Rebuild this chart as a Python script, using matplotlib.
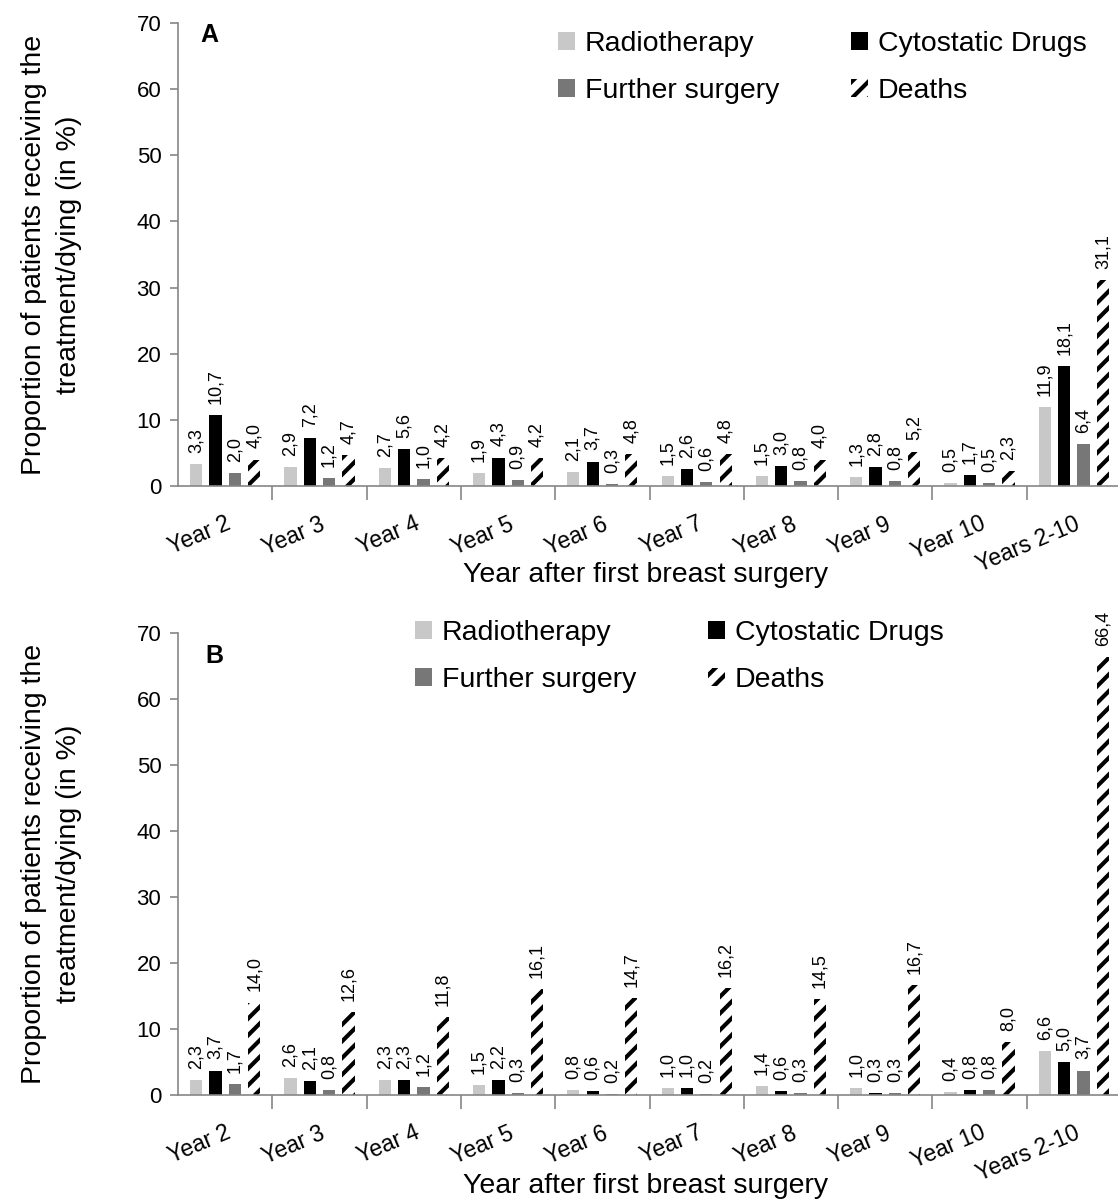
import numpy as np
import matplotlib.pyplot as plt
from matplotlib.ticker import FixedLocator, NullFormatter

plt.rcParams['font.family'] = ['Liberation Sans', 'DejaVu Sans']
plt.rcParams['hatch.linewidth'] = 3.0

# Categories and series
years = ["Year 2", "Year 3", "Year 4", "Year 5", "Year 6",
         "Year 7", "Year 8", "Year 9", "Year 10", "Years 2-10"]
series_names = ["Radiotherapy", "Cytostatic Drugs", "Further surgery", "Deaths"]

# Panel A
radio_a = [3.3, 2.9, 2.7, 1.9, 2.1, 1.5, 1.5, 1.3, 0.5, 11.9]
cyto_a = [10.7, 7.2, 5.6, 4.3, 3.7, 2.6, 3.0, 2.8, 1.7, 18.1]
surg_a = [2.0, 1.2, 1.0, 0.9, 0.3, 0.6, 0.8, 0.8, 0.5, 6.4]
deaths_a = [4.0, 4.7, 4.2, 4.2, 4.8, 4.8, 4.0, 5.2, 2.3, 31.1]

# Panel B
radio_b = [2.3, 2.6, 2.3, 1.5, 0.8, 1.0, 1.4, 1.0, 0.4, 6.6]
cyto_b = [3.7, 2.1, 2.3, 2.2, 0.6, 1.0, 0.6, 0.3, 0.8, 5.0]
surg_b = [1.7, 0.8, 1.2, 0.3, 0.2, 0.2, 0.3, 0.3, 0.8, 3.7]
deaths_b = [14.0, 12.6, 11.8, 16.1, 14.7, 16.2, 14.5, 16.7, 8.0, 66.4]

W, H = 1118, 1203
fig = plt.figure(figsize=(W / 100, H / 100), dpi=100)

axis_gray = '#868686'


def draw_panel(ax, data, letter, letter_pos, legend_anchor, xlabel_y):
    x = np.arange(len(years))
    width = 0.13
    step = 0.205
    offsets = [-1.5 * step, -0.5 * step, 0.5 * step, 1.5 * step]
    styles = [
        dict(color='#c8c8c8'),
        dict(color='black'),
        dict(color='#777777'),
        dict(facecolor='white', edgecolor='black', hatch='//', linewidth=0),
    ]
    handles = []
    for vals, off, st, name in zip(data, offsets, styles, series_names):
        bars = ax.bar(x + off, vals, width, label=name, **st)
        handles.append(bars)
        for xi, v in zip(x + off, vals):
            ax.annotate(f"{v:.1f}".replace('.', ','), (xi, v),
                        xytext=(0, 8), textcoords='offset points',
                        rotation=90, ha='center', va='bottom', fontsize=13)

    ax.set_xlim(-0.5, len(years) - 0.5)
    ax.set_ylim(0, 70)
    ax.set_yticks(range(0, 71, 10))
    ax.tick_params(axis='y', labelsize=16, color=axis_gray, length=6,
                   width=1.2, pad=6)

    # separators between groups as major ticks, labels at group centers
    ax.xaxis.set_major_locator(FixedLocator(np.arange(0.5, len(years) - 0.5, 1)))
    ax.xaxis.set_major_formatter(NullFormatter())
    ax.xaxis.set_minor_locator(FixedLocator(x))
    ax.set_xticklabels(years, minor=True, rotation=23, ha='right',
                       rotation_mode='anchor', fontsize=16.5)
    ax.tick_params(axis='x', which='major', direction='out', length=10,
                   color=axis_gray, width=1.2)
    ax.tick_params(axis='x', which='minor', length=0, pad=19)

    for side in ['top', 'right']:
        ax.spines[side].set_visible(False)
    for side in ['left', 'bottom']:
        ax.spines[side].set_color(axis_gray)
        ax.spines[side].set_linewidth(1.2)

    ax.set_xlabel("Year after first breast surgery", fontsize=20.5)
    ax.xaxis.set_label_coords(0.496, xlabel_y)
    ax.set_ylabel("Proportion of patients receiving the\ntreatment/dying (in %)",
                  fontsize=20.5, linespacing=1.45)
    ax.yaxis.set_label_coords(-0.102, 0.5)

    ax.text(letter_pos[0], letter_pos[1], letter, transform=fig.transFigure,
            fontsize=18, fontweight='bold', ha='left', va='center')

    # order so that rows read Radiotherapy | Cytostatic, Further surgery | Deaths
    order = [0, 2, 1, 3]
    ax.legend(handles=[handles[i] for i in order],
              labels=[series_names[i] for i in order],
              loc='upper left', bbox_to_anchor=legend_anchor,
              bbox_transform=fig.transFigure, ncol=2, frameon=False,
              fontsize=20.5, handlelength=0.6, handleheight=0.6,
              handletextpad=0.35, columnspacing=2.5, labelspacing=0.75,
              borderaxespad=0, borderpad=0)


ax_a = fig.add_axes([178 / W, 1 - 486 / H, 943 / W, 463 / H])
draw_panel(ax_a, [radio_a, cyto_a, surg_a, deaths_a], "A",
           (200 / W, 1 - 35 / H), (558 / W, 1 - 31 / H), -0.164)

ax_b = fig.add_axes([178 / W, 1 - 1095 / H, 943 / W, 462 / H])
draw_panel(ax_b, [radio_b, cyto_b, surg_b, deaths_b], "B",
           (205 / W, 1 - 656 / H), (415 / W, 1 - 620 / H), -0.169)

fig.savefig("out.png", dpi=100)
